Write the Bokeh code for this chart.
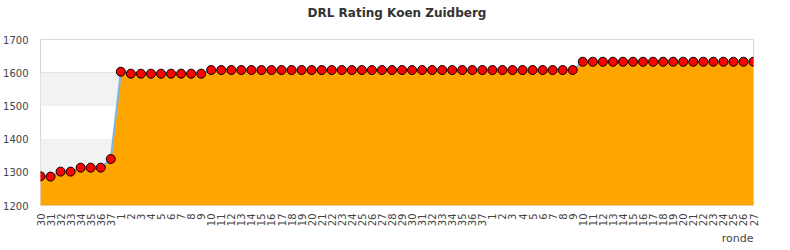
import math
from bokeh.plotting import figure
from bokeh.models import FixedTicker, Title, BoxAnnotation, ColumnDataSource, Range1d
from bokeh.embed import file_html
from bokeh.resources import INLINE

title_text = "DRL Rating Koen Zuidberg"
x_title = "ronde"

rounds = ["30", "31", "32", "33", "34", "35", "36", "37",
          "1", "2", "3", "4", "5", "6", "7", "8", "9", "10",
          "11", "12", "13", "14", "15", "16", "17", "18", "19", "20",
          "21", "22", "23", "24", "25", "26", "27", "28", "29", "30",
          "31", "32", "33", "34", "35", "36", "37",
          "1", "2", "3", "4", "5", "6", "7", "8", "9", "10",
          "11", "12", "13", "14", "15", "16", "17", "18", "19", "20",
          "21", "22", "23", "24", "25", "26", "27"]

ratings = [1288, 1287, 1302, 1302, 1314, 1314, 1314, 1340,
           1603, 1597, 1597, 1597, 1597, 1597, 1597, 1597, 1597, 1608,
           1608, 1608, 1608, 1608, 1608, 1608, 1608, 1608, 1608, 1608,
           1608, 1608, 1608, 1608, 1608, 1608, 1608, 1608, 1608, 1608,
           1608, 1608, 1608, 1608, 1608, 1608, 1608,
           1608, 1608, 1608, 1608, 1608, 1608, 1608, 1608, 1608, 1633,
           1633, 1633, 1633, 1633, 1633, 1633, 1633, 1633, 1633, 1633,
           1633, 1633, 1633, 1633, 1633, 1633, 1633]

y_ticks = [1200, 1300, 1400, 1500, 1600, 1700]
y_min, y_max = 1200, 1700
bands = [(1300, 1400), (1500, 1600)]

idx = list(range(len(rounds)))
src = ColumnDataSource(dict(x=idx, y=ratings, base=[y_min] * len(idx)))

p = figure(width=790, height=250, output_backend="svg", toolbar_location=None,
           x_range=Range1d(0, len(idx) - 1), y_range=Range1d(y_min, y_max),
           min_border_left=40, min_border_right=37, min_border_top=0,
           min_border_bottom=45, background_fill_color="white",
           border_fill_color="white", outline_line_color="#d8d8d8")

p.title.text = title_text
p.title.align = "center"
p.title.text_font = "DejaVu Sans"
p.title.text_font_size = "12px"
p.title.text_font_style = "bold"
p.title.text_color = "#333333"
p.title.standoff = 7

# empty spacer between the title and the plot area
p.add_layout(Title(text=" ", text_font_size="10px", standoff=3), "above")

for lo, hi in bands:
    p.add_layout(BoxAnnotation(bottom=lo, top=hi, fill_color="#f2f2f2",
                               fill_alpha=1, line_color=None, level="underlay"))

p.varea(x="x", y1="base", y2="y", source=src, fill_color="#FFA500", fill_alpha=1)
p.line(x="x", y="y", source=src, line_color="#7cb5ec", line_width=2)
p.scatter(x="x", y="y", source=src, marker="circle", size=9,
          fill_color="#ff0000", line_color="#000000", line_width=1)

p.xgrid.grid_line_color = None
p.ygrid.grid_line_color = "#dddddd"
p.ygrid.ticker = FixedTicker(ticks=y_ticks)

p.yaxis.ticker = FixedTicker(ticks=y_ticks)
p.yaxis.axis_line_color = None
p.yaxis.major_tick_line_color = None
p.yaxis.minor_tick_line_color = None
p.yaxis.major_label_text_font = "DejaVu Sans"
p.yaxis.major_label_text_font_size = "10px"
p.yaxis.major_label_text_color = "#444444"
p.yaxis.major_label_standoff = 6

p.xaxis.ticker = FixedTicker(ticks=idx)
p.xaxis.major_label_overrides = {i: r for i, r in zip(idx, rounds)}
p.xaxis.major_label_orientation = math.pi / 2
p.xaxis.axis_line_color = None
p.xaxis.major_tick_line_color = None
p.xaxis.minor_tick_line_color = None
p.xaxis.major_label_text_font = "DejaVu Sans"
p.xaxis.major_label_text_font_size = "10px"
p.xaxis.major_label_text_color = "#444444"
p.xaxis.major_label_standoff = 2

p.add_layout(Title(text=x_title, align="right", text_font="DejaVu Sans",
                   text_font_size="11px", text_font_style="normal",
                   text_color="#444444", standoff=0), "below")

open("out.html", "w").write(file_html(p, INLINE))
